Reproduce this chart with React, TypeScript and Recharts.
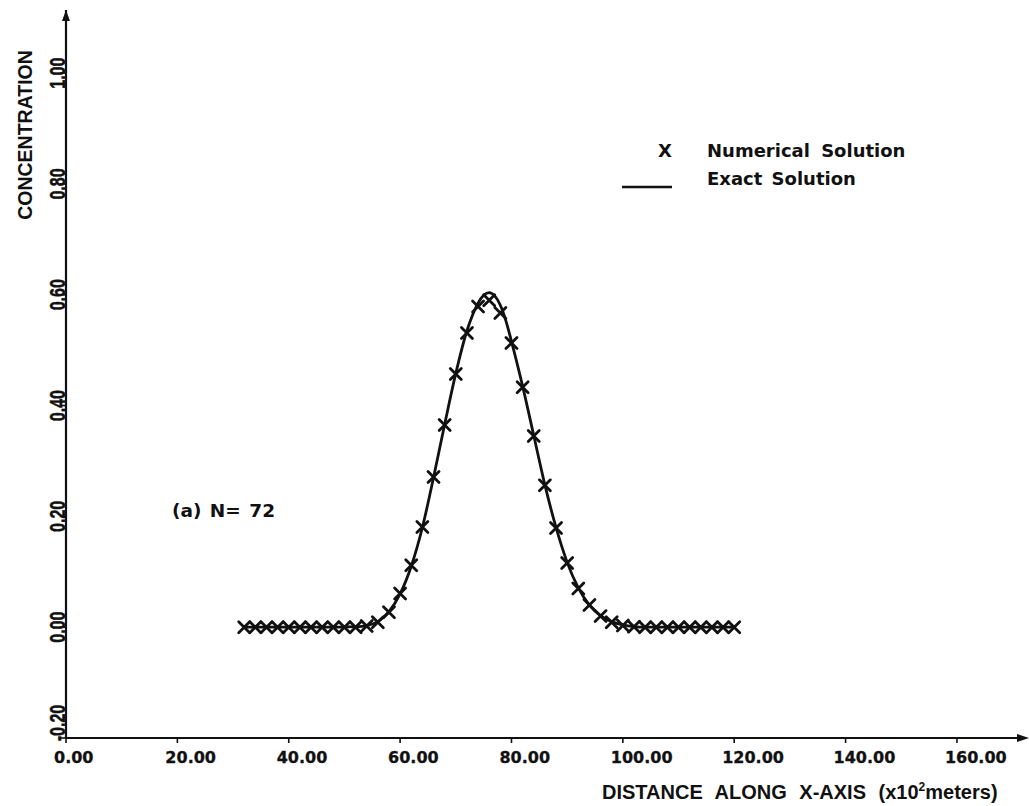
import React from 'react';
import { ComposedChart, Line, Scatter, XAxis, YAxis, ReferenceDot, Legend, Label } from 'recharts';

// numerical solution (x marks)
const numX = [
  32, 34, 36, 38, 40, 42, 44, 46, 48, 50, 52, 54, 56, 58, 60, 62, 64, 66, 68, 70, 72, 74, 76,
  78, 80, 82, 84, 86, 88, 90, 92, 94, 96, 98, 100, 102, 104, 106, 108, 110, 112, 114, 116, 118, 120,
];
const numY = [
  0, 0, 0, 0, 0, 0, 0, 0, 0, 0, 0.0, 0.002, 0.009, 0.027, 0.061, 0.112, 0.181, 0.271, 0.365, 0.457,
  0.531, 0.579, 0.59, 0.567, 0.513, 0.433, 0.345, 0.256, 0.179, 0.116, 0.07, 0.04, 0.02, 0.009, 0.003,
  0.001, 0, 0, 0, 0, 0, 0, 0, 0, 0,
];

// exact solution (solid curve)
const exactX = [
  32, 40, 48, 50, 52, 54, 56, 58, 60, 62, 64, 66, 68, 70, 72, 73, 74, 75, 76, 77, 78, 79, 80, 82, 84,
  86, 88, 90, 92, 94, 96, 98, 100, 102, 104, 110, 120,
];
const exactY = [
  0, 0, 0, 0.0005, 0.001, 0.003, 0.01, 0.028, 0.06, 0.11, 0.18, 0.27, 0.366, 0.458, 0.535, 0.563,
  0.585, 0.599, 0.604, 0.598, 0.581, 0.553, 0.516, 0.435, 0.346, 0.257, 0.18, 0.117, 0.071, 0.04,
  0.021, 0.01, 0.004, 0.001, 0, 0, 0,
];

const xTicks = [0, 20, 40, 60, 80, 100, 120, 140, 160];
const xTickLabels = ['0.00', '20.00', '40.00', '60.00', '80.00', '100.00', '120.00', '140.00', '160.00'];
const yTicks = [-0.2, 0, 0.2, 0.4, 0.6, 0.8, 1.0];
const yTickLabels = ['-0.20', '0.00', '0.20', '0.40', '0.60', '0.80', '1.00'];

const X_MAX = 172.4;
const Y_MIN = -0.2;
const Y_MAX = 1.114;

const numerical = numX.map((x, i) => ({ x, y: numY[i] }));
const exact = exactX.map((x, i) => ({ x, y: exactY[i] }));

const INK = '#111';
const PLOT_FONT = '"DejaVu Sans", sans-serif';
const TITLE_FONT = '"Liberation Sans", Arial, sans-serif';

const XMark = (props: any) => {
  const { cx, cy } = props;
  if (cx == null || cy == null) return null;
  const r = 5.5;
  return (
    <path
      d={`M${cx - r},${cy - r}L${cx + r},${cy + r}M${cx - r},${cy + r}L${cx + r},${cy - r}`}
      stroke={INK}
      strokeWidth={2.8}
      strokeLinecap="round"
      fill="none"
    />
  );
};

const ArrowRight = (props: any) => {
  const { cx, cy } = props;
  return <path d={`M${cx + 3},${cy} L${cx - 9},${cy - 4} L${cx - 9},${cy + 4} Z`} fill={INK} />;
};

const ArrowUp = (props: any) => {
  const { cx, cy } = props;
  return <path d={`M${cx},${cy} L${cx - 4},${cy + 11} L${cx + 4},${cy + 11} Z`} fill={INK} />;
};

const XTick = (props: any) => {
  const { x, y, payload, index } = props;
  return (
    <text
      x={x - 12}
      y={y + 18}
      textAnchor="start"
      fontFamily={PLOT_FONT}
      fontWeight="bold"
      fontSize={16}
      fill={INK}
      stroke={INK}
      strokeWidth={0.3}
    >
      {xTickLabels[index] ?? payload.value}
    </text>
  );
};

const YTick = (props: any) => {
  const { x, y, payload, index } = props;
  const shift = payload.value < 0 ? -15 : 0;
  return (
    <g transform={`translate(${x + 5},${y + shift}) rotate(-90) scale(1,1.35)`}>
      <text
        x={0}
        y={0}
        textAnchor="middle"
        fontFamily={TITLE_FONT}
        fontWeight="bold"
        fontSize={16}
        fill={INK}
        stroke={INK}
        strokeWidth={0.4}
      >
        {yTickLabels[index] ?? payload.value}
      </text>
    </g>
  );
};

const LegendBox = () => (
  <svg width={340} height={75} style={{ display: 'block' }}>
    <text x={65} y={32} textAnchor="middle" fontFamily={PLOT_FONT} fontWeight="bold" fontSize={18} fill={INK}>
      X
    </text>
    <text x={107} y={32} fontFamily={PLOT_FONT} fontWeight="bold" fontSize={18} fill={INK} style={{ wordSpacing: 5 }}>
      Numerical Solution
    </text>
    <line x1={22} y1={62} x2={72} y2={62} stroke={INK} strokeWidth={2.6} />
    <text x={107} y={60} fontFamily={PLOT_FONT} fontWeight="bold" fontSize={18} fill={INK} style={{ wordSpacing: 3 }}>
      Exact Solution
    </text>
  </svg>
);

export default function App() {
  return (
    <div style={{ position: 'absolute', left: 0, top: 0, width: 1029, height: 806, background: '#fff' }}>
      <ComposedChart width={1029} height={806} margin={{ top: 10, right: 3, bottom: 38, left: 6 }}>
        <XAxis
          type="number"
          dataKey="x"
          domain={[0, X_MAX]}
          ticks={xTicks}
          interval={0}
          height={30}
          axisLine={{ stroke: INK, strokeWidth: 2.2 }}
          tickLine={{ stroke: INK, strokeWidth: 1.6 }}
          tickSize={5}
          tick={<XTick />}
        >
          <Label
            content={() => (
              <text
                x={602}
                y={799}
                fontFamily={TITLE_FONT}
                fontWeight="bold"
                fontSize={20}
                fill={INK}
                style={{ wordSpacing: 7 }}
              >
                DISTANCE ALONG X-AXIS (x10
                <tspan fontSize={12} dy={-8}>
                  2
                </tspan>
                <tspan dy={8}>meters)</tspan>
              </text>
            )}
          />
        </XAxis>
        <YAxis
          type="number"
          domain={[Y_MIN, Y_MAX]}
          ticks={yTicks}
          interval={0}
          width={60}
          axisLine={{ stroke: INK, strokeWidth: 2.2 }}
          tickLine={{ stroke: INK, strokeWidth: 1.6 }}
          tickSize={6}
          tickMargin={0}
          tick={<YTick />}
        >
          <Label
            content={() => (
              <text
                transform="translate(32,135) rotate(-90)"
                textAnchor="middle"
                fontFamily={TITLE_FONT}
                fontWeight="bold"
                fontSize={19.5}
                fill={INK}
              >
                CONCENTRATION
              </text>
            )}
          />
        </YAxis>
        <Legend
          layout="horizontal"
          verticalAlign="middle"
          align="center"
          content={LegendBox}
          wrapperStyle={{ left: 600, top: 125, width: 340, height: 75 }}
        />
        <Line
          data={exact}
          dataKey="y"
          type="monotone"
          stroke={INK}
          strokeWidth={2.8}
          dot={false}
          activeDot={false}
          isAnimationActive={false}
          legendType="none"
        />
        <Scatter
          data={numerical}
          dataKey="y"
          shape={<XMark />}
          isAnimationActive={false}
          legendType="none"
        />
        <ReferenceDot x={X_MAX} y={Y_MIN} shape={<ArrowRight />} ifOverflow="visible" />
        <ReferenceDot x={0} y={Y_MAX} shape={<ArrowUp />} ifOverflow="visible" />
      </ComposedChart>
      <svg
        width={200}
        height={40}
        style={{ position: 'absolute', left: 160, top: 490, overflow: 'visible' }}
      >
        <text x={12} y={27} fontFamily={PLOT_FONT} fontWeight="bold" fontSize={18.5} fill={INK} style={{ wordSpacing: 2 }}>
          (a) N= 72
        </text>
      </svg>
    </div>
  );
}
